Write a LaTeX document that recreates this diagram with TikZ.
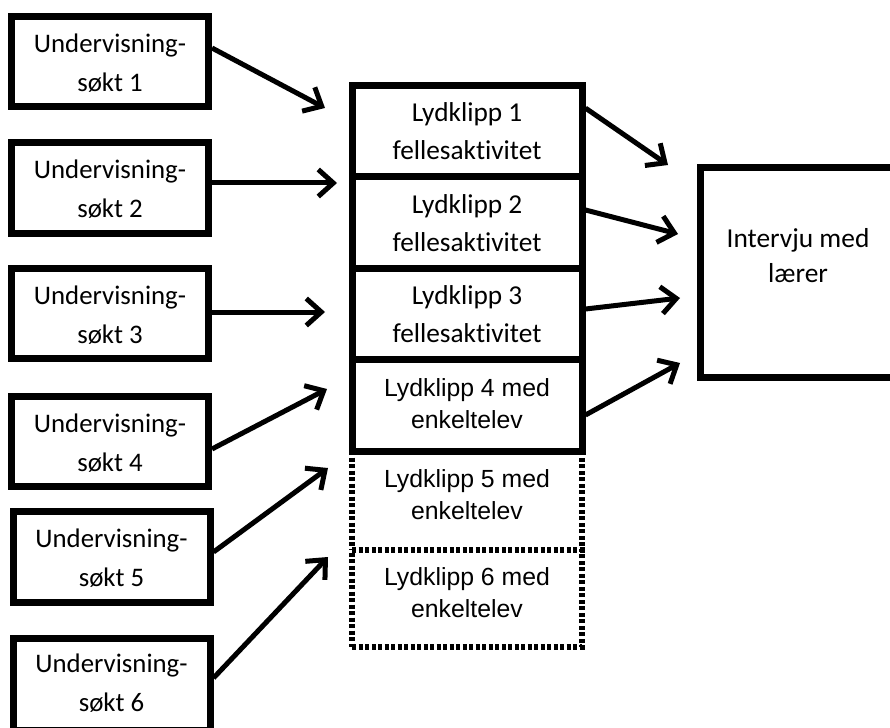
\documentclass[tikz,border=0pt]{standalone}
\usepackage{fontspec}
\setmainfont{Carlito}[Ligatures=NoCommon]
\newfontfamily\arialfont{Liberation Sans}
\usetikzlibrary{arrows.meta,calc}
\begin{document}
\begin{tikzpicture}[x=1pt,y=-1pt,
  srcbox/.style={draw,line width=7pt,minimum width=197pt,inner sep=0pt},
  clipbox/.style={draw,line width=7pt,minimum width=230pt,inner sep=0pt},
  dotbox/.style={draw,line width=6pt,dash pattern=on 4pt off 2.5pt,minimum width=230pt,inner sep=0pt},
  bigbox/.style={draw,line width=7pt,minimum width=196pt,minimum height=209pt,inner sep=0pt},
  srctext/.style={font=\fontsize{26.8}{39}\selectfont,align=center,inner sep=0pt},
  caltext/.style={font=\fontsize{27.3}{38}\selectfont,align=center,inner sep=0pt},
  ariatext/.style={font=\arialfont\fontsize{24.8}{32}\selectfont,align=center,inner sep=0pt},
  inttext/.style={font=\fontsize{27.4}{35}\selectfont,align=center,inner sep=0pt},
  conn/.style={line width=5pt,-{Straight Barb[length=15pt,width=27pt]}}
]
\path[use as bounding box,clip] (0,0) rectangle (890,727);

% left source boxes
\node[srcbox,minimum height=90pt]   (L1) at (110,62) {};
\node[srcbox,minimum height=90.5pt] (L2) at (110.25,188.25) {};
\node[srcbox,minimum height=90pt]   (L3) at (110,313.5) {};
\node[srcbox,minimum height=90pt]   (L4) at (110,441.5) {};
\node[srcbox,minimum height=91pt]   (L5) at (111.5,557) {};
\node[srcbox,minimum height=92pt]   (L6) at (111.5,684.5) {};
\node[srctext] (LT1) at (110,63.3)  {Undervisning-\\søkt 1};
\node[srctext] (LT2) at (110,189.3) {Undervisning-\\søkt 2};
\node[srctext] (LT3) at (110,314.8) {Undervisning-\\søkt 3};
\node[srctext] (LT4) at (110,442.8) {Undervisning-\\søkt 4};
\node[srctext] (LT5) at (111.5,558) {Undervisning-\\søkt 5};
\node[srctext] (LT6) at (111.5,683.3) {Undervisning-\\søkt 6};

% middle column
\node[dotbox,minimum height=96.5pt] (M6) at (467,598.25) {};
\node[dotbox,minimum height=99pt]   (M5) at (467,500.5) {};
\node[clipbox,minimum height=91.2pt] (M1) at (467,131.1) {};
\node[clipbox,minimum height=91.3pt] (M2) at (467,222.35) {};
\node[clipbox,minimum height=91pt]   (M3) at (467,313.5) {};
\node[clipbox,minimum height=92pt]   (M4) at (467,405) {};
\node[caltext]  (MT1) at (467,131.5) {Lydklipp 1\\fellesaktivitet};
\node[caltext]  (MT2) at (467,222.9) {Lydklipp 2\\fellesaktivitet};
\node[caltext]  (MT3) at (467,314.6) {Lydklipp 3\\fellesaktivitet};
\node[ariatext] (MT4) at (467,403.8) {Lydklipp 4 med\\enkeltelev};
\node[ariatext] (MT5) at (467,494.4) {Lydklipp 5 med\\enkeltelev};
\node[ariatext] (MT6) at (467,592.8) {Lydklipp 6 med\\enkeltelev};

% right box
\node[bigbox] (R) at (798,272.5) {};
\node[inttext] (RT) at (798,256) {Intervju med\\lærer};

% arrow tips (free ends)
\coordinate (a1) at (325,108);
\coordinate (a2) at (337,183);
\coordinate (a3) at (325,312);
\coordinate (a4) at (327,389);
\coordinate (a5) at (328,468);
\coordinate (a6) at (328,557);
\coordinate (b1) at (668,165);
\coordinate (b2) at (678,234);
\coordinate (b3) at (680,298);
\coordinate (b4) at (680,363);

\draw[conn] ($(L1.east)+(0,-14)$) -- (a1);
\draw[conn] ($(L2.east)+(0,-5.25)$) -- (a2);
\draw[conn] ($(L3.east)+(0,-1.5)$) -- (a3);
\draw[conn] ($(L4.east)+(0,7.5)$) -- (a4);
\draw[conn] ($(L5.east)+(0,-5)$) -- (a5);
\draw[conn] ($(L6.east)+(0,-6.5)$) -- (a6);
\draw[conn] ($(M1.east)+(0,-23)$) -- (b1);
\draw[conn] ($(M2.east)+(0,-12.35)$) -- (b2);
\draw[conn] ($(M3.east)+(0,-4.5)$) -- (b3);
\draw[conn] ($(M4.east)+(0,10)$) -- (b4);
\end{tikzpicture}
\end{document}
